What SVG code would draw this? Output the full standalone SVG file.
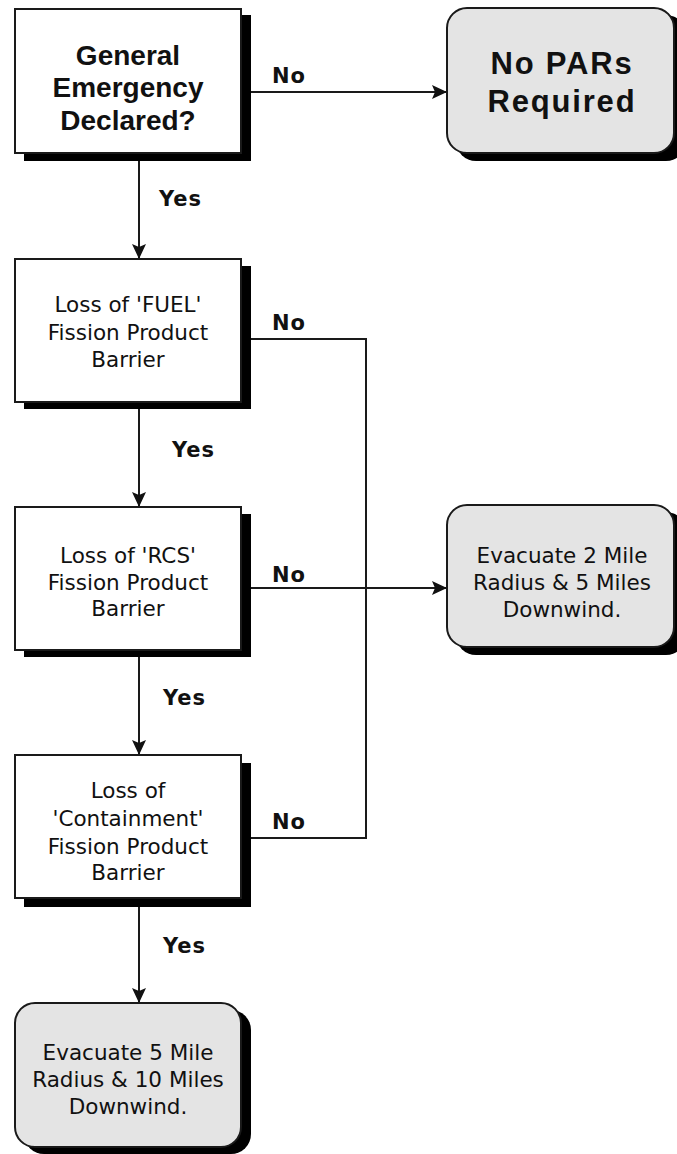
<svg xmlns="http://www.w3.org/2000/svg" width="677" height="1154" viewBox="0 0 677 1154">
<defs>
<style>
.box{fill:#ffffff;stroke:#1a1a1a;stroke-width:2}
.term{fill:#e4e4e4;stroke:#1a1a1a;stroke-width:2}
.shadow{fill:#000000}
.big{font-family:"Liberation Sans",Arial,sans-serif;font-weight:bold;font-size:28px;fill:#111;text-anchor:middle}
.big2{font-family:"Liberation Sans",Arial,sans-serif;font-weight:bold;font-size:31px;fill:#111;text-anchor:middle;letter-spacing:1.8px}
.txt{font-family:"DejaVu Sans","Liberation Sans",sans-serif;font-size:21.5px;fill:#111;text-anchor:middle}
.lbl{font-family:"DejaVu Sans","Liberation Sans",sans-serif;font-weight:bold;font-size:21px;fill:#111;letter-spacing:1px}
.line{fill:none;stroke:#1a1a1a;stroke-width:2}
</style>
<marker id="arr" markerUnits="userSpaceOnUse" markerWidth="16" markerHeight="14" refX="15" refY="7" orient="auto">
<path d="M0,0 L15,7 L0,14 L3,7 Z" fill="#111"/>
</marker>
</defs>
<rect width="677" height="1154" fill="#ffffff"/>

<g id="connectors">
<line class="line" x1="251" y1="92" x2="447" y2="92" marker-end="url(#arr)"/>
<line class="line" x1="139" y1="161" x2="139" y2="259" marker-end="url(#arr)"/>
<polyline class="line" points="251,339 366,339 366,838 251,838"/>
<line class="line" x1="251" y1="588" x2="447" y2="588" marker-end="url(#arr)"/>
<line class="line" x1="139" y1="409" x2="139" y2="507" marker-end="url(#arr)"/>
<line class="line" x1="139" y1="657" x2="139" y2="755" marker-end="url(#arr)"/>
<line class="line" x1="139" y1="906" x2="139" y2="1003" marker-end="url(#arr)"/>
<text class="lbl" x="272" y="83">No</text>
<text class="lbl" x="159" y="206">Yes</text>
<text class="lbl" x="272" y="330">No</text>
<text class="lbl" x="172" y="457">Yes</text>
<text class="lbl" x="272" y="582">No</text>
<text class="lbl" x="163" y="705">Yes</text>
<text class="lbl" x="272" y="829">No</text>
<text class="lbl" x="163" y="953">Yes</text>
</g>

<g id="n-general">
<rect class="shadow" x="24" y="15" width="227" height="146"/>
<rect class="box" x="15" y="9" width="226" height="144"/>
<text class="big" x="128" y="65">General</text>
<text class="big" x="128" y="97">Emergency</text>
<text class="big" x="128" y="130">Declared?</text>
</g>

<g id="n-nopars">
<rect class="shadow" x="456" y="15" width="230" height="146" rx="20"/>
<rect class="term" x="447" y="8" width="227" height="145" rx="20"/>
<text class="big2" x="562" y="74">No PARs</text>
<text class="big2" x="562" y="112">Required</text>
</g>

<g id="n-fuel">
<rect class="shadow" x="24" y="266" width="227" height="143"/>
<rect class="box" x="15" y="259" width="226" height="143"/>
<text class="txt" x="128" y="312">Loss of 'FUEL'</text>
<text class="txt" x="128" y="340">Fission Product</text>
<text class="txt" x="128" y="367">Barrier</text>
</g>

<g id="n-rcs">
<rect class="shadow" x="24" y="514" width="227" height="143"/>
<rect class="box" x="15" y="507" width="226" height="143"/>
<text class="txt" x="128" y="563">Loss of 'RCS'</text>
<text class="txt" x="128" y="590">Fission Product</text>
<text class="txt" x="128" y="616">Barrier</text>
</g>

<g id="n-evac2">
<rect class="shadow" x="456" y="512" width="230" height="143" rx="20"/>
<rect class="term" x="447" y="505" width="227" height="142" rx="20"/>
<text class="txt" x="562" y="563">Evacuate 2 Mile</text>
<text class="txt" x="562" y="590">Radius &amp; 5 Miles</text>
<text class="txt" x="562" y="617">Downwind.</text>
</g>

<g id="n-containment">
<rect class="shadow" x="24" y="763" width="227" height="144"/>
<rect class="box" x="15" y="755" width="226" height="143"/>
<text class="txt" x="128" y="798">Loss of</text>
<text class="txt" x="128" y="826">'Containment'</text>
<text class="txt" x="128" y="854">Fission Product</text>
<text class="txt" x="128" y="880">Barrier</text>
</g>

<g id="n-evac5">
<rect class="shadow" x="24" y="1010" width="227" height="144" rx="20"/>
<rect class="term" x="15" y="1003" width="226" height="144" rx="20"/>
<text class="txt" x="128" y="1060">Evacuate 5 Mile</text>
<text class="txt" x="128" y="1087">Radius &amp; 10 Miles</text>
<text class="txt" x="128" y="1114">Downwind.</text>
</g>
</svg>
